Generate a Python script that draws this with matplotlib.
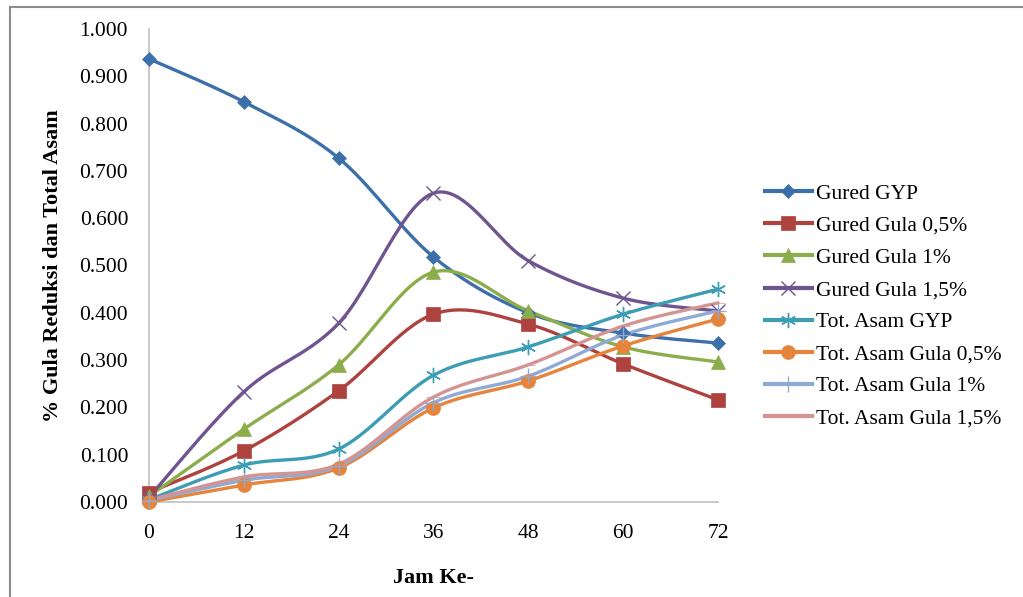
import numpy as np
import matplotlib
matplotlib.use("Agg")
import matplotlib.pyplot as plt
from matplotlib.lines import Line2D

hours = [0, 12, 24, 36, 48, 60, 72]
gured_gyp = [0.937, 0.846, 0.727, 0.518, 0.400, 0.357, 0.336]
gured_05 = [0.020, 0.108, 0.235, 0.397, 0.376, 0.292, 0.216]
gured_1 = [0.012, 0.154, 0.290, 0.486, 0.404, 0.328, 0.296]
gured_15 = [0.010, 0.233, 0.378, 0.653, 0.510, 0.431, 0.404]
asam_gyp = [0.005, 0.078, 0.112, 0.268, 0.328, 0.397, 0.450]
asam_05 = [0.000, 0.036, 0.072, 0.199, 0.256, 0.330, 0.387]
asam_1 = [0.003, 0.046, 0.076, 0.210, 0.266, 0.353, 0.404]
asam_15 = [0.004, 0.053, 0.080, 0.222, 0.290, 0.372, 0.421]

labels = ["Gured GYP", "Gured Gula 0,5%", "Gured Gula 1%", "Gured Gula 1,5%",
          "Tot. Asam GYP", "Tot. Asam Gula 0,5%", "Tot. Asam Gula 1%", "Tot. Asam Gula 1,5%"]
series = [gured_gyp, gured_05, gured_1, gured_15, asam_gyp, asam_05, asam_1, asam_15]
colors = ["#3D6FA9", "#AD423F", "#8CAD4C", "#6F5490", "#3C9DB5", "#E5843A", "#8FAAD6", "#D49491"]
markers = ["D", "s", "^", "x", (6, 2, 0), "o", "+", "_"]
msizes = [7, 10, 10, 10, 11, 10, 11, 10]


def smooth(x, y, n=30):
    x = np.asarray(x, float); y = np.asarray(y, float)
    P = np.column_stack([x, y])
    out = []
    for i in range(len(P) - 1):
        p0 = P[i - 1] if i > 0 else P[i]
        p1 = P[i]; p2 = P[i + 1]
        p3 = P[i + 2] if i + 2 < len(P) else P[i + 1]
        c1 = p1 + (p2 - p0) / 6.0
        c2 = p2 - (p3 - p1) / 6.0
        t = np.linspace(0, 1, n)[:, None]
        seg = (1 - t) ** 3 * p1 + 3 * (1 - t) ** 2 * t * c1 + 3 * (1 - t) * t ** 2 * c2 + t ** 3 * p2
        out.append(seg if i == 0 else seg[1:])
    B = np.vstack(out)
    return B[:, 0], B[:, 1]


plt.rcParams['font.family'] = ['Liberation Serif', 'DejaVu Serif']
fig = plt.figure(figsize=(10.23, 5.97), dpi=100)
ax = fig.add_axes([149 / 1023, 1 - 502 / 597, (718 - 149) / 1023, (502 - 29) / 597])

handles = []
for y, c, m, ms, lab in zip(series, colors, markers, msizes, labels):
    sx, sy = smooth(hours, y)
    ax.plot(sx, sy, color=c, lw=2.4, solid_capstyle='round', clip_on=False, zorder=3)
    mew = 1.0 if m in ("x", "+", (6, 2, 0)) else 0.5
    ax.plot(hours, y, linestyle='none', marker=m, markersize=ms, color=c,
            markeredgecolor=c, markeredgewidth=mew, clip_on=False, zorder=4)
    handles.append(Line2D([], [], color=c, lw=3, marker=m, markersize=ms,
                          markeredgecolor=c, markeredgewidth=mew, label=lab))

ax.set_xlim(0, 72)
ax.set_ylim(0, 1.0)
ax.set_xticks(hours)
ax.set_yticks(np.arange(0, 1.01, 0.1))
ax.set_yticklabels([f"{v:.3f}" for v in np.arange(0, 1.01, 0.1)])
ax.tick_params(axis='both', length=0, labelsize=15.5)
ax.tick_params(axis='y', pad=15)
ax.tick_params(axis='x', pad=16)
for s in ["top", "right"]:
    ax.spines[s].set_visible(False)
for s in ["left", "bottom"]:
    ax.spines[s].set_color("#BFBFBF")
    ax.spines[s].set_linewidth(1.2)

ax.set_xlabel("Jam Ke-", fontsize=16, fontweight='bold', labelpad=18)
ax.set_ylabel("% Gula Reduksi dan Total Asam", fontsize=16, fontweight='bold', labelpad=12)

fig.legend(handles=handles, loc='upper left', bbox_to_anchor=(756 / 1023, 1 - 175 / 597),
           frameon=False, fontsize=15.5, handlelength=2.2, labelspacing=0.56,
           handletextpad=0.2, borderaxespad=0)

# outer frame (left and top visible)
fig.add_artist(Line2D([10 / 1023, 10 / 1023], [0, 1 - 7 / 597], transform=fig.transFigure,
                      color="#8C8C8C", lw=1.5))
fig.add_artist(Line2D([10 / 1023, 1], [1 - 7 / 597, 1 - 7 / 597], transform=fig.transFigure,
                      color="#8C8C8C", lw=1.5))

fig.savefig("out.png", dpi=100)
